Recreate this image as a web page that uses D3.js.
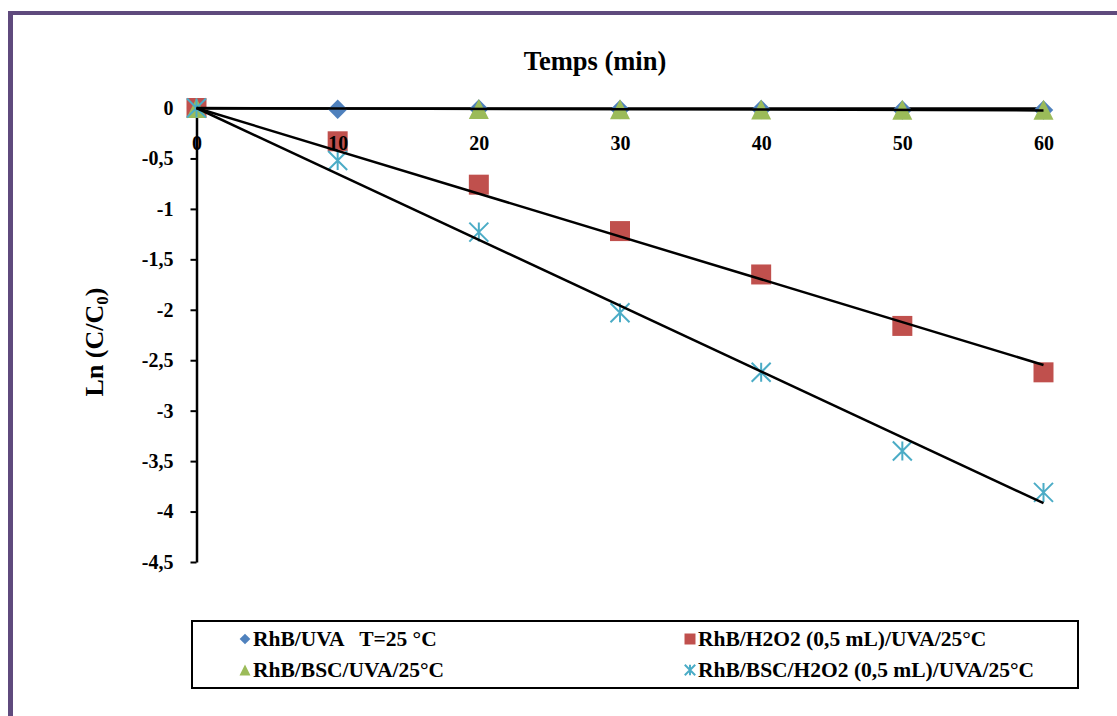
<!DOCTYPE html>
<html>
<head>
<meta charset="utf-8">
<script src="https://cdn.jsdelivr.net/npm/d3@7"></script>
<style>
  body { margin: 0; background: #fff; }
  svg { display: block; font-family: "Liberation Serif", "Times New Roman", serif; font-weight: bold; }
</style>
</head>
<body>
<div id="chart"></div>
<script>
const width = 1117,
    height = 716;

// data (null = no point)
const times = [0, 10, 20, 30, 40, 50, 60];
const uva = [0, -0.013, -0.01, -0.015, -0.015, -0.02, -0.02];
const h2o2 = [0, -0.33, -0.76, -1.22, -1.65, -2.16, -2.62];
const bsc = [0, null, -0.01, -0.012, -0.015, -0.018, -0.018];
const bscH2o2 = [0, -0.52, -1.23, -2.03, -2.62, -3.40, -3.81];
const yTicks = [0, -0.5, -1, -1.5, -2, -2.5, -3, -3.5, -4, -4.5];
const xTicks = [0, 10, 20, 30, 40, 50, 60];

const svg = d3.select("#chart")
    .append("svg")
    .attr("width", width)
    .attr("height", height);

// purple frame (only top and left edges visible)
svg.append("rect").attr("x", 8).attr("y", 11).attr("width", width).attr("height", 4).attr("fill", "#5f4a7d");
svg.append("rect").attr("x", 8).attr("y", 11).attr("width", 5).attr("height", height).attr("fill", "#5f4a7d");

let x = d3.scaleLinear()
    .domain([0, 60])
    .range([196.5, 1043.5]);

let y = d3.scaleLinear()
    .domain([-4.5, 0])
    .range([562, 108]);

const fmt = d => String(d).replace(".", ",");

// y axis
const gy = svg.append("g")
    .attr("transform", `translate(${x(0)},0)`)
    .call(d3.axisLeft(y).tickValues(yTicks).tickFormat(fmt).tickSize(6).tickSizeOuter(0).tickPadding(17));
gy.select(".domain").attr("stroke", "#000").attr("stroke-width", 2.5);
gy.selectAll(".tick line").attr("stroke", "#000").attr("stroke-width", 2);
gy.selectAll(".tick text").attr("font-size", 20).attr("fill", "#000").attr("font-family", "Liberation Serif").attr("font-weight", "bold");

// x axis line (crosses at 0)
const gx = svg.append("g")
    .attr("transform", `translate(0,${y(0)})`)
    .call(d3.axisBottom(x).tickValues(xTicks).tickFormat("").tickSize(0));
gx.select(".domain").attr("stroke", "#000").attr("stroke-width", 2.5);

// axis titles
svg.append("text")
    .attr("x", 595)
    .attr("y", 70)
    .attr("text-anchor", "middle")
    .attr("font-size", 26.5)
    .text("Temps (min)");

const yl = svg.append("text")
    .attr("transform", "translate(103,342) rotate(-90)")
    .attr("text-anchor", "middle")
    .attr("font-size", 26);
yl.append("tspan").text("Ln (C/C");
yl.append("tspan").attr("font-size", 17).attr("dy", 5).text("0");
yl.append("tspan").attr("dy", -5).text(")");

// marker shapes
const starPath = s => `M0,${-s}V${s}M${-s},${-s}L${s},${s}M${-s},${s}L${s},${-s}`;

const series = [
    { name: "RhB/UVA   T=25 °C", values: uva, color: "#4f81bd", type: "diamond", trend: true },
    { name: "RhB/H2O2 (0,5 mL)/UVA/25°C", values: h2o2, color: "#c0504d", type: "square", trend: true },
    { name: "RhB/BSC/UVA/25°C", values: bsc, color: "#9bbb59", type: "triangle", trend: false },
    { name: "RhB/BSC/H2O2 (0,5 mL)/UVA/25°C", values: bscH2o2, color: "#4bacc6", type: "star", trend: true }
];

function drawMarker(g, type, color, k) {
    if (type === "diamond") {
        g.append("path").attr("d", d3.symbol(d3.symbolSquare, 190 * k * k)()).attr("transform", "rotate(45)").attr("fill", color);
    } else if (type === "square") {
        g.append("path").attr("d", d3.symbol(d3.symbolSquare, 400 * k * k)()).attr("fill", color);
    } else if (type === "triangle") {
        const s = 10 * k;
        g.append("path").attr("d", `M0,${-s}L${s},${s}L${-s},${s}Z`).attr("fill", color);
    } else {
        g.append("path").attr("d", starPath(9.5 * k)).attr("stroke", color).attr("stroke-width", 2).attr("fill", "none");
    }
}

// markers
series.forEach(s => {
    s.values.forEach((v, i) => {
        if (v === null) return;
        const g = svg.append("g").attr("transform", `translate(${x(times[i])},${y(v)})`);
        drawMarker(g, s.type, s.color, 1);
    });
});

// linear trend lines through the origin (least squares)
let line = d3.line()
    .x(d => x(d[0]))
    .y(d => y(d[1]));

series.filter(s => s.trend).forEach(s => {
    const sxy = d3.sum(times, (t, i) => t * s.values[i]);
    const sxx = d3.sum(times, t => t * t);
    const slope = sxy / sxx;
    svg.append("path")
        .datum([[0, 0], [60, slope * 60]])
        .attr("d", line)
        .attr("fill", "none")
        .attr("stroke", "#000")
        .attr("stroke-width", 2.5);
});

// x tick labels drawn over the markers
const gxl = svg.append("g")
    .attr("transform", `translate(0,${y(0)})`)
    .call(d3.axisBottom(x).tickValues(xTicks).tickFormat(d => d).tickSize(0).tickPadding(28));
gxl.select(".domain").remove();
gxl.selectAll(".tick text").attr("font-size", 20).attr("fill", "#000").attr("font-family", "Liberation Serif").attr("font-weight", "bold");

// legend
svg.append("rect")
    .attr("x", 192).attr("y", 621)
    .attr("width", 886).attr("height", 67)
    .attr("fill", "none").attr("stroke", "#000").attr("stroke-width", 2);

const legendPos = [
    { mx: 245, ty: 646 },
    { mx: 690, ty: 646 },
    { mx: 245, ty: 677 },
    { mx: 690, ty: 677 }
];

series.forEach((s, i) => {
    const p = legendPos[i];
    const g = svg.append("g").attr("transform", `translate(${p.mx},${p.ty - 7})`);
    drawMarker(g, s.type, s.color, 0.55);
    svg.append("text")
        .attr("x", p.mx + 8)
        .attr("y", p.ty)
        .attr("font-size", 21.5)
        .attr("xml:space", "preserve")
        .style("white-space", "pre")
        .text(s.name);
});
</script>
</body>
</html>
